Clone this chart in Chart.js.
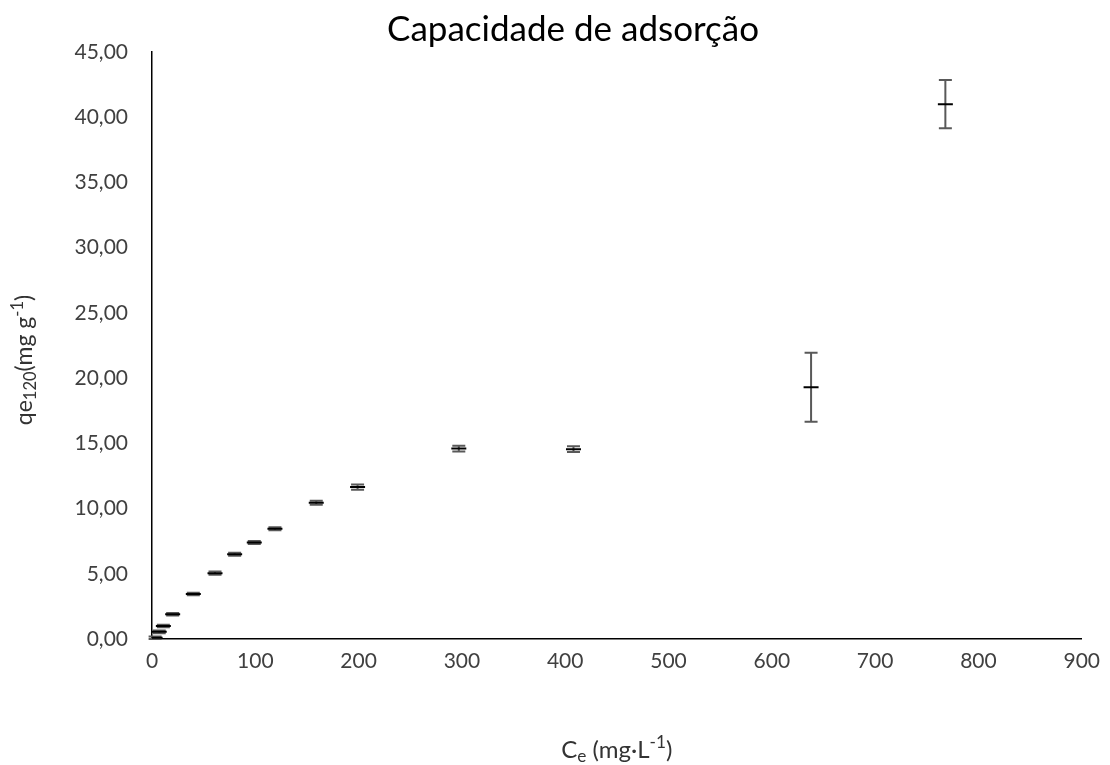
<!DOCTYPE html>
<html lang="pt">
<head>
<meta charset="UTF-8">
<title>Capacidade de adsorção</title>
<script src="https://cdn.jsdelivr.net/npm/chart.js"></script>
<style>
  body, html { margin: 0; padding: 0; background: #fff; }
  #chart { display: block; }
</style>
</head>
<body>
<canvas id="chart" width="1110" height="765"></canvas>
<script>
// dados
const ceValues = [3, 7, 11, 20, 40, 61, 80, 99, 119, 159, 199, 297, 408, 638, 768];
const qeValues = [0.1, 0.55, 1.0, 1.9, 3.45, 5.05, 6.5, 7.4, 8.45, 10.45, 11.65, 14.6, 14.55, 19.3, 41.0];
const qeErrors = [0.1, 0.1, 0.1, 0.1, 0.1, 0.12, 0.12, 0.12, 0.12, 0.15, 0.2, 0.22, 0.22, 2.65, 1.85];
const xTicks = [0, 100, 200, 300, 400, 500, 600, 700, 800, 900];
const yTicks = [0, 5, 10, 15, 20, 25, 30, 35, 40, 45];

const FONT = 'Lato, "Open Sans", sans-serif';

// barras de erro desenhadas com as escalas do gráfico
const errorBars = {
  id: 'errorBars',
  beforeDatasetsDraw(chart) {
    const ctx = chart.ctx;
    const xs = chart.scales.x, ys = chart.scales.y;
    ctx.save();
    ctx.strokeStyle = '#595959';
    ctx.lineWidth = 2;
    ceValues.forEach((c, i) => {
      const px = xs.getPixelForValue(c);
      const top = ys.getPixelForValue(qeValues[i] + qeErrors[i]);
      const bot = ys.getPixelForValue(qeValues[i] - qeErrors[i]);
      ctx.beginPath();
      ctx.moveTo(px, top); ctx.lineTo(px, bot);
      ctx.moveTo(px - 6.5, top); ctx.lineTo(px + 6.5, top);
      ctx.moveTo(px - 6.5, bot); ctx.lineTo(px + 6.5, bot);
      ctx.stroke();
    });
    ctx.restore();
  }
};

// títulos dos eixos com subscrito / sobrescrito
function drawRich(ctx, parts, x, y, size, rotate) {
  ctx.save();
  ctx.translate(x, y);
  if (rotate) ctx.rotate(-Math.PI / 2);
  ctx.textBaseline = 'middle';
  ctx.textAlign = 'left';
  ctx.fillStyle = '#333';
  let total = 0;
  parts.forEach(p => {
    ctx.font = (p.s ? size * 0.72 : size) + 'px ' + FONT;
    total += ctx.measureText(p.t).width;
  });
  let cx = -total / 2;
  parts.forEach(p => {
    ctx.font = (p.s ? size * 0.72 : size) + 'px ' + FONT;
    const dy = p.s === -1 ? size * 0.25 : (p.s === 1 ? -size * 0.33 : 0);
    ctx.fillText(p.t, cx, dy);
    cx += ctx.measureText(p.t).width;
  });
  ctx.restore();
}

const axisTitles = {
  id: 'axisTitles',
  afterDraw(chart) {
    const ctx = chart.ctx;
    const area = chart.chartArea;
    drawRich(ctx, [
      { t: 'qe' }, { t: '120', s: -1 }, { t: '(mg g' }, { t: '-1', s: 1 }, { t: ')' }
    ], 25, 360, 23, true);
    drawRich(ctx, [
      { t: 'C' }, { t: 'e', s: -1 }, { t: ' (mg·L' }, { t: '-1', s: 1 }, { t: ')' }
    ], (area.left + area.right) / 2, 750, 24, false);
  }
};

new Chart(document.getElementById('chart'), {
  type: 'scatter',
  data: {
    datasets: [{
      label: 'qe',
      data: ceValues.map((c, i) => ({ x: c, y: qeValues[i] })),
      pointStyle: 'line',
      pointRadius: 7.5,
      pointHoverRadius: 7.5,
      borderColor: '#000',
      backgroundColor: '#000',
      pointBorderWidth: 2
    }]
  },
  options: {
    responsive: false,
    animation: false,
    devicePixelRatio: 1,
    layout: { padding: { left: 62, right: 26, top: 0, bottom: 0 } },
    plugins: {
      legend: { display: false },
      tooltip: { enabled: false },
      title: {
        display: true,
        text: 'Capacidade de adsorção',
        color: '#000',
        font: { family: FONT, size: 35, weight: 'normal', lineHeight: 1.2 },
        padding: { top: 9, bottom: 1 }
      }
    },
    scales: {
      x: {
        type: 'linear',
        min: 0,
        max: 900,
        afterBuildTicks: s => { s.ticks = xTicks.map(v => ({ value: v })); },
        afterFit: s => { s.height = 126; },
        grid: { display: false, drawTicks: false },
        border: { display: true, color: '#000', width: 1.5 },
        ticks: {
          color: '#404040',
          padding: 10,
          font: { family: FONT, size: 21 }
        }
      },
      y: {
        type: 'linear',
        min: 0,
        max: 45,
        afterBuildTicks: s => { s.ticks = yTicks.map(v => ({ value: v })); },
        afterFit: s => { s.width = 90; },
        grid: { display: false, drawTicks: false },
        border: { display: true, color: '#000', width: 1.5 },
        ticks: {
          color: '#404040',
          padding: 24,
          font: { family: FONT, size: 21 },
          callback: v => v.toFixed(2).replace('.', ',')
        }
      }
    }
  },
  plugins: [errorBars, axisTitles]
});
</script>
</body>
</html>
